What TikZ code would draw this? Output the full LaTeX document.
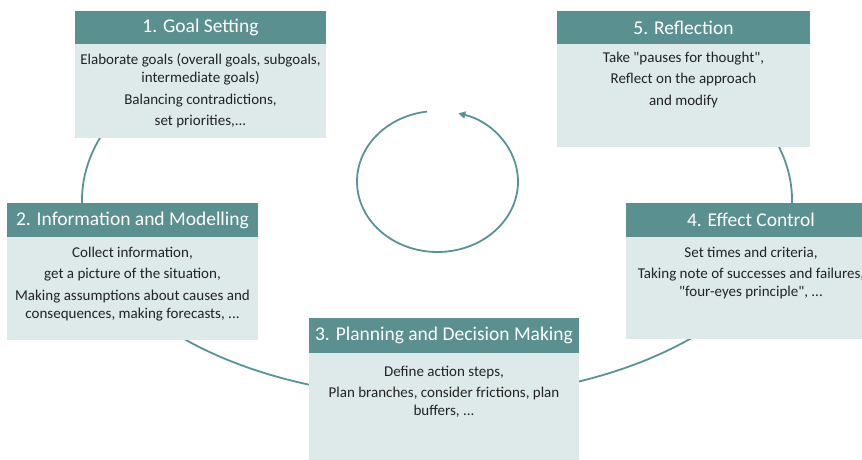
\documentclass[tikz,border=0pt]{standalone}
\usepackage{fontspec}
\setmainfont{Carlito}[Ligatures=TeXOff]
\usetikzlibrary{arrows.meta}
\definecolor{tealhead}{RGB}{91,144,144}
\definecolor{tealline}{RGB}{88,148,148}
\definecolor{tealbody}{RGB}{222,234,234}
\definecolor{bodytext}{RGB}{34,34,34}
\begin{document}
\begin{tikzpicture}[x=1pt,y=1pt,
  head/.style={rectangle, fill=tealhead, text=white, inner sep=0pt, outer sep=0pt,
    anchor=north west, font=\fontsize{19.5}{23}\selectfont},
  panel/.style={rectangle, fill=tealbody, inner sep=0pt, outer sep=0pt, anchor=north},
  notes/.style={align=center, inner sep=0pt, outer sep=0pt, anchor=north, text=bodytext,
    font=\fontsize{15}{18}\selectfont},
  ringline/.style={draw=tealline, line width=1.8pt},
]
\useasboundingbox (0,0) rectangle (862,460);
\clip (0,0) rectangle (862,460);

% outer cycle: elliptical segments running behind the panels
\coordinate (ring) at (437,260);
\draw[ringline] ([shift={(150:355pt and 198pt)}]ring) arc[start angle=150, end angle=195, x radius=355pt, y radius=198pt];
\draw[ringline] ([shift={(215:355pt and 198pt)}]ring) arc[start angle=215, end angle=260, x radius=355pt, y radius=198pt];
\draw[ringline] ([shift={(280:355pt and 198pt)}]ring) arc[start angle=280, end angle=330, x radius=355pt, y radius=198pt];
\draw[ringline] ([shift={(350:355pt and 198pt)}]ring) arc[start angle=350, end angle=380, x radius=355pt, y radius=198pt];

% inner circular arrow
\coordinate (hub) at (437.5,278.5);
\draw[ringline, -{Triangle[length=7pt,width=7pt]}] ([shift={(97.5:80.5pt and 70.5pt)}]hub)
  arc[start angle=97.5, end angle=435, x radius=80.5pt, y radius=70.5pt];

% 1. Goal Setting
\node[head, minimum width=251pt, minimum height=33pt] (h1) at (75,449) {1. Goal Setting};
\node[panel, minimum width=251pt, minimum height=94pt] (b1) at (h1.south) {};
\node[notes] (t1) at ([yshift=-10pt]b1.north)
  {Elaborate goals (overall goals, subgoals,\\intermediate goals)\\[3.5pt]Balancing contradictions,\\[3.5pt]set priorities,...};

% 5. Reflection
\node[head, minimum width=253pt, minimum height=33pt] (h5) at (557,449) {5. Reflection};
\node[panel, minimum width=253pt, minimum height=103pt] (b5) at (h5.south) {};
\node[notes] (t5) at ([yshift=-8pt]b5.north)
  {Take "pauses for thought",\\[3.5pt]Reflect on the approach\\[3.5pt]and modify};

% 2. Information and Modelling
\node[head, minimum width=251pt, minimum height=34pt] (h2) at (7,257) {2. Information and Modelling};
\node[panel, minimum width=251pt, minimum height=103pt] (b2) at (h2.south) {};
\node[notes] (t2) at ([yshift=-10pt]b2.north)
  {Collect information,\\[3.5pt]get a picture of the situation,\\[3.5pt]Making assumptions about causes and\\consequences, making forecasts, ...};

% 4. Effect Control (runs past the right edge)
\node[head, minimum width=250pt, minimum height=34pt] (h4) at (626,257) {4. Effect Control};
\node[panel, minimum width=250pt, minimum height=102pt] (b4) at (h4.south) {};
\node[notes] (t4) at ([yshift=-10pt]b4.north)
  {Set times and criteria,\\[3.5pt]Taking note of successes and failures,\\"four-eyes principle", ...};

% 3. Planning and Decision Making
\node[head, minimum width=270pt, minimum height=35pt] (h3) at (309,142) {3. Planning and Decision Making};
\node[panel, minimum width=270pt, minimum height=110pt] (b3) at (h3.south) {};
\node[notes] (t3) at ([yshift=-13pt]b3.north)
  {Define action steps,\\[3.5pt]Plan branches, consider frictions, plan\\buffers, ...};
\end{tikzpicture}
\end{document}
